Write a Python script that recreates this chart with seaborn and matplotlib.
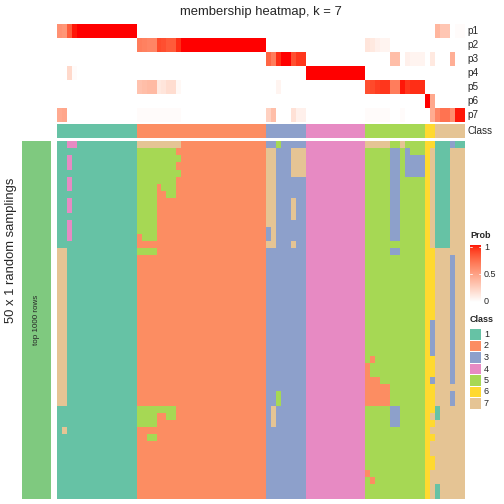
import numpy as np
import pandas as pd
import seaborn as sns
import matplotlib
matplotlib.use("Agg")
import matplotlib.pyplot as plt
from matplotlib.colors import ListedColormap
from matplotlib.patches import Rectangle

# ---------------- data ----------------
title = "membership heatmap, k = 7"
prob_labels = ["p1", "p2", "p3", "p4", "p5", "p6", "p7"]
class_names = ["1", "2", "3", "4", "5", "6", "7"]
class_colors = ["#66C2A5", "#FC8D62", "#8DA0CB", "#E78AC3", "#A6D854", "#FFD92F", "#E5C494"]
row_anno_color = "#7FC97F"
row_anno_text = "top 1000 rows"
row_title = "50 x 1 random samplings"

# class of each of the 82 samples (columns)
sample_class = [1] * 16 + [2] * 26 + [3] * 8 + [4] * 12 + [5] * 12 + [6] * 2 + [7] * 6

# membership probabilities per sample
p1 = [0.56, 0.54, 0.80, 0.98] + [1.0] * 12 + [0] * 26 + [0] * 8 + [0] * 12 + [0] * 12 + [0, 0] \
    + [0.38, 0.30, 0.30, 0, 0.02, 0.02]
p2 = [0] * 16 + [0.66, 0.64, 0.62, 0.62, 0.86, 0.84, 0.80, 0.80, 0.94] + [1.0] * 17 + [0] * 8 + [0] * 12 \
    + [0.14, 0.12, 0.08, 0.06, 0.06, 0, 0, 0, 0, 0, 0, 0] + [0, 0] + [0] * 6
p3 = [0] * 16 + [0] * 26 + [0.76, 0.66, 0.94, 1.0, 1.0, 0.84, 0.92, 0.92] + [0] * 12 \
    + [0, 0, 0, 0, 0, 0.34, 0.34, 0, 0.08, 0.06, 0.06, 0.06] + [0, 0.12] + [0, 0, 0, 0.42, 0, 0]
p4 = [0, 0, 0.20, 0.02] + [0] * 12 + [0] * 26 + [0] * 8 + [1.0] * 12 + [0] * 12 + [0, 0] + [0] * 6
p5 = [0] * 16 + [0.32, 0.34, 0.36, 0.36, 0.12, 0.14, 0.18, 0.18, 0.04] + [0] * 17 \
    + [0, 0, 0.06, 0, 0, 0, 0, 0] + [0] * 12 \
    + [0.84, 0.86, 0.90, 0.92, 0.92, 0.66, 0.66, 0.98, 0.92, 0.94, 0.94, 0.94] + [0, 0] + [0] * 6
p6 = [0] * 16 + [0] * 26 + [0] * 8 + [0] * 12 + [0] * 12 + [1.0, 0.45] + [0] * 6
p7 = [0.44, 0.46, 0, 0] + [0] * 12 + [0.02] * 9 + [0] * 17 + [0.24, 0.34, 0, 0, 0, 0.16, 0.08, 0.08] \
    + [0] * 12 + [0.02, 0.02, 0.02, 0.02, 0.02, 0, 0, 0.02, 0, 0, 0, 0] + [0, 0.43] \
    + [0.62, 0.70, 0.70, 0.58, 0.98, 0.98]

# class assigned in each of the 50 random samplings (rows) for each sample
samplings = [
    "1144111111111111 77777777722222222222222222 33533333 444444444444 777775575555 66 111311",
    "1111111111111111 55555555222222222222222222 77333777 444444444444 555553353555 67 111777",
    "1141111111111111 55555555522222222222222222 77333777 444444444444 555553353333 67 111777",
    "1141111111111111 55555555222222222222222222 77333777 444444444444 555553353333 67 111777",
    "1111111111111111 55555555522222222222222222 77333777 444444444444 555553353333 67 111777",
    "1141111111111111 55555555222222222222222222 77333333 444444444444 555553355555 67 111777",
    "1141111111111111 55552555222222222222222222 77333333 444444444444 555553355555 67 111777",
    "1111111111111111 55552255222222222222222222 77333333 444444444444 555553355555 67 111777",
    "1141111111111111 55552222222222222222222222 77333733 444444444444 555553355555 67 111777",
    "1141111111111111 55552222222222222222222222 77333733 444444444444 555553355555 67 111777",
    "1111111111111111 55552222222222222222222222 77333733 444444444444 555553355555 67 111777",
    "1141111111111111 55552222222222222222222222 77333333 444444444444 555553355555 67 111777",
    "1141111111111111 55552222222222222222222222 37333333 444444444444 555553355555 67 111777",
    "1141111111111111 25552222222222222222222222 37333333 444444444444 555553355555 67 111777",
    "1111111111111111 22222222222222222222222222 77333733 444444444444 555555555555 67 111777",
    "7711111111111111 55552222222222222222222222 33333333 444444444444 555553355555 66 777777",
    "7711111111111111 22222222222222222222222222 33333333 444444444444 555555555555 66 777377",
    "7711111111111111 22222222222222222222222222 33333333 444444444444 555555555555 66 777377",
    "7711111111111111 22222222222222222222222222 33333333 444444444444 555555555555 66 777377",
    "7711111111111111 22222222222222222222222222 33333333 444444444444 555555555555 66 777377",
    "7711111111111111 22222222222222222222222222 33333333 444444444444 555555555555 66 777377",
    "7711111111111111 22222222222222222222222222 33333333 444444444444 555555555555 66 777377",
    "7711111111111111 22222222222222222222222222 33333333 444444444444 555555555555 66 777377",
    "7711111111111111 22222222222222222222222222 33333333 444444444444 555555555555 66 777377",
    "7711111111111111 22222222222222222222222222 33333333 444444444444 555555555555 66 777377",
    "7711111111111111 22222222222222222222222222 33333333 444444444444 555555555555 63 777377",
    "7711111111111111 22222222222222222222222222 33333333 444444444444 555555555555 63 777377",
    "7711111111111111 22222222222222222222222222 33333333 444444444444 555555555555 63 777377",
    "7711111111111111 22222222222222222222222222 33333333 444444444444 555555555555 63 777377",
    "7711111111111111 22222222222222222222222222 33333333 444444444444 555555555555 63 777377",
    "7711111111111111 22222222222222222222222222 33333333 444444444444 525555555555 66 777377",
    "7711111111111111 22222222222222222222222222 33333333 444444444444 255555555555 66 777377",
    "7711111111111111 22222222222222222222222222 33333333 444444444444 255555555555 66 777377",
    "7711111111111111 22222222222222222222222222 33333333 444444444444 222555555555 63 777377",
    "7711111111111111 22222222222222222222222222 33333333 444444444444 222225555555 66 777777",
    "7711111111111111 22222222222222222222222222 33533333 444444444444 222225555555 66 777377",
    "7711111111111111 22222222222222222222222222 33533333 444444444444 222225555555 66 777377",
    "1111111111111111 55555555222222222222222222 37333333 444444444444 555553355555 66 177777",
    "1111111111111111 55552255222222222222222222 37333333 444444444444 555553355555 67 177777",
    "1111111111111111 55552222222222222222222222 37333333 444444444444 555553355555 66 777777",
    "1711111111111111 22222222222222222222222222 33333333 444444444444 555555555555 67 777777",
    "1111111111111111 22552222222222222222222222 33333333 444444444444 555555555555 66 777777",
    "1111111111111111 22222222222222222222222222 33333333 444444444444 555555555555 67 777777",
    "1111111111111111 22222222222222222222222222 33333333 444444444444 555555555555 67 777777",
    "1111111111111111 22222222222222222222222222 33333333 444444444444 555555555555 66 777777",
    "1111111111111111 22222222222222222222222222 33333333 444444444444 555555555555 66 777777",
    "1111111111111111 22222222222222222222222222 33333333 444444444444 255555555555 67 777777",
    "1111111111111111 22222222222222222222222222 33333333 444444444444 525555555555 67 777777",
    "1111111111111111 22222222222222222222222222 33333333 444444444444 555555555555 67 177777",
    "1111111111111111 22222222222222222222222222 33333333 444444444444 555555555555 67 177777",
]

# ---------------- build tables ----------------
rows = []
for i, s in enumerate(samplings):
    s = s.replace(" ", "")
    assert len(s) == 82, (i, len(s))
    rows.append([int(c) for c in s])
main_mat = np.array(rows)
prob_df = pd.DataFrame(np.array([p1, p2, p3, p4, p5, p6, p7], dtype=float), index=prob_labels)
for r in [p1, p2, p3, p4, p5, p6, p7]:
    assert len(r) == 82


# white -> red colour ramp interpolated in CIE LAB
def lab_to_srgb(L, a, b):
    fy = (L + 16) / 116
    fx = fy + a / 500
    fz = fy - b / 200

    def finv(t):
        return np.where(t > 6 / 29, t ** 3, 3 * (6 / 29) ** 2 * (t - 4 / 29))
    X = 0.95047 * finv(fx)
    Y = finv(fy)
    Z = 1.08883 * finv(fz)
    M = np.array([[3.2406, -1.5372, -0.4986], [-0.9689, 1.8758, 0.0415], [0.0557, -0.2040, 1.0570]])
    lin = np.clip(M @ np.vstack([X, Y, Z]), 0, 1)
    rgb = np.where(lin <= 0.0031308, 12.92 * lin, 1.055 * lin ** (1 / 2.4) - 0.055)
    return np.clip(rgb.T, 0, 1)


t = np.linspace(0, 1, 256)
prob_cmap = ListedColormap(lab_to_srgb(100 + (53.24 - 100) * t, 80.09 * t, 67.20 * t))
class_cmap = ListedColormap(class_colors)

# ---------------- figure ----------------
sns.set_style("white")
plt.rcParams["font.family"] = ["Liberation Sans", "DejaVu Sans"]

W = H = 504
fig = plt.figure(figsize=(7, 7), dpi=72)


def px_axes(x0, y0, x1, y1):
    return fig.add_axes([x0 / W, 1 - y1 / H, (x1 - x0) / W, (y1 - y0) / H])


# probability annotation
ax_p = px_axes(57, 24, 465, 122)
sns.heatmap(prob_df, ax=ax_p, cmap=prob_cmap, vmin=0, vmax=1, cbar=False,
            xticklabels=False, yticklabels=True, linewidths=0)
ax_p.yaxis.tick_right()
ax_p.tick_params(axis="y", length=0, pad=2, labelsize=10)
plt.setp(ax_p.get_yticklabels(), rotation=0, ha="left", va="center")

# class annotation
ax_c = px_axes(57, 124, 465, 138)
sns.heatmap(pd.DataFrame([sample_class], index=["Class"]), ax=ax_c, cmap=class_cmap,
            vmin=0.5, vmax=7.5, cbar=False, xticklabels=False, yticklabels=True, linewidths=0)
ax_c.yaxis.tick_right()
ax_c.tick_params(axis="y", length=0, pad=2, labelsize=10)
plt.setp(ax_c.get_yticklabels(), rotation=0, ha="left", va="center")

# main heatmap
ax_m = px_axes(57, 141, 465, 498.5)
sns.heatmap(main_mat, ax=ax_m, cmap=class_cmap, vmin=0.5, vmax=7.5, cbar=False,
            xticklabels=False, yticklabels=False, linewidths=0)

# row annotation
ax_l = px_axes(22, 141, 51, 498.5)
sns.heatmap(np.ones((len(samplings), 1)), ax=ax_l, cmap=ListedColormap([row_anno_color]),
            vmin=0, vmax=2, cbar=False, xticklabels=False, yticklabels=False, linewidths=0)

# overlay for texts and legends
ax_o = fig.add_axes([0, 0, 1, 1], facecolor="none")
ax_o.set_xlim(0, W)
ax_o.set_ylim(H, 0)
ax_o.axis("off")

ax_o.text(261, 15, title, ha="center", va="baseline", fontsize=13)
ax_o.text(11, 250, row_title, ha="center", va="center", rotation=90, fontsize=13)
ax_o.text(36.5, 320, row_anno_text, ha="center", va="center", rotation=90, fontsize=8)

# Prob legend
ax_o.text(470, 236, "Prob", ha="left", va="center", fontsize=9, fontweight="bold")
ax_cb = px_axes(470, 245, 481, 302)
ax_cb.imshow(np.linspace(1, 0, 200).reshape(-1, 1), aspect="auto", cmap=prob_cmap,
             vmin=0, vmax=1, extent=[0, 1, 0, 1])
for v in [0.5, 0.965]:
    ax_cb.plot([0, 0.22], [v, v], color="white", lw=0.8)
    ax_cb.plot([0.78, 1], [v, v], color="white", lw=0.8)
ax_cb.set_xlim(0, 1)
ax_cb.set_ylim(0, 1)
ax_cb.axis("off")
for val, y in [("1", 247), ("0.5", 274.5), ("0", 302)]:
    ax_o.text(484, y, val, ha="left", va="center", fontsize=9)

# Class legend
ax_o.text(470, 320, "Class", ha="left", va="center", fontsize=9, fontweight="bold")
for k, (name, col) in enumerate(zip(class_names, class_colors)):
    y0 = 329 + 11.5 * k
    ax_o.add_patch(Rectangle((470, y0), 11, 10.5, facecolor=col, edgecolor="none"))
    ax_o.text(484, y0 + 5.5, name, ha="left", va="center", fontsize=9)

fig.savefig("out.png", dpi=72)
